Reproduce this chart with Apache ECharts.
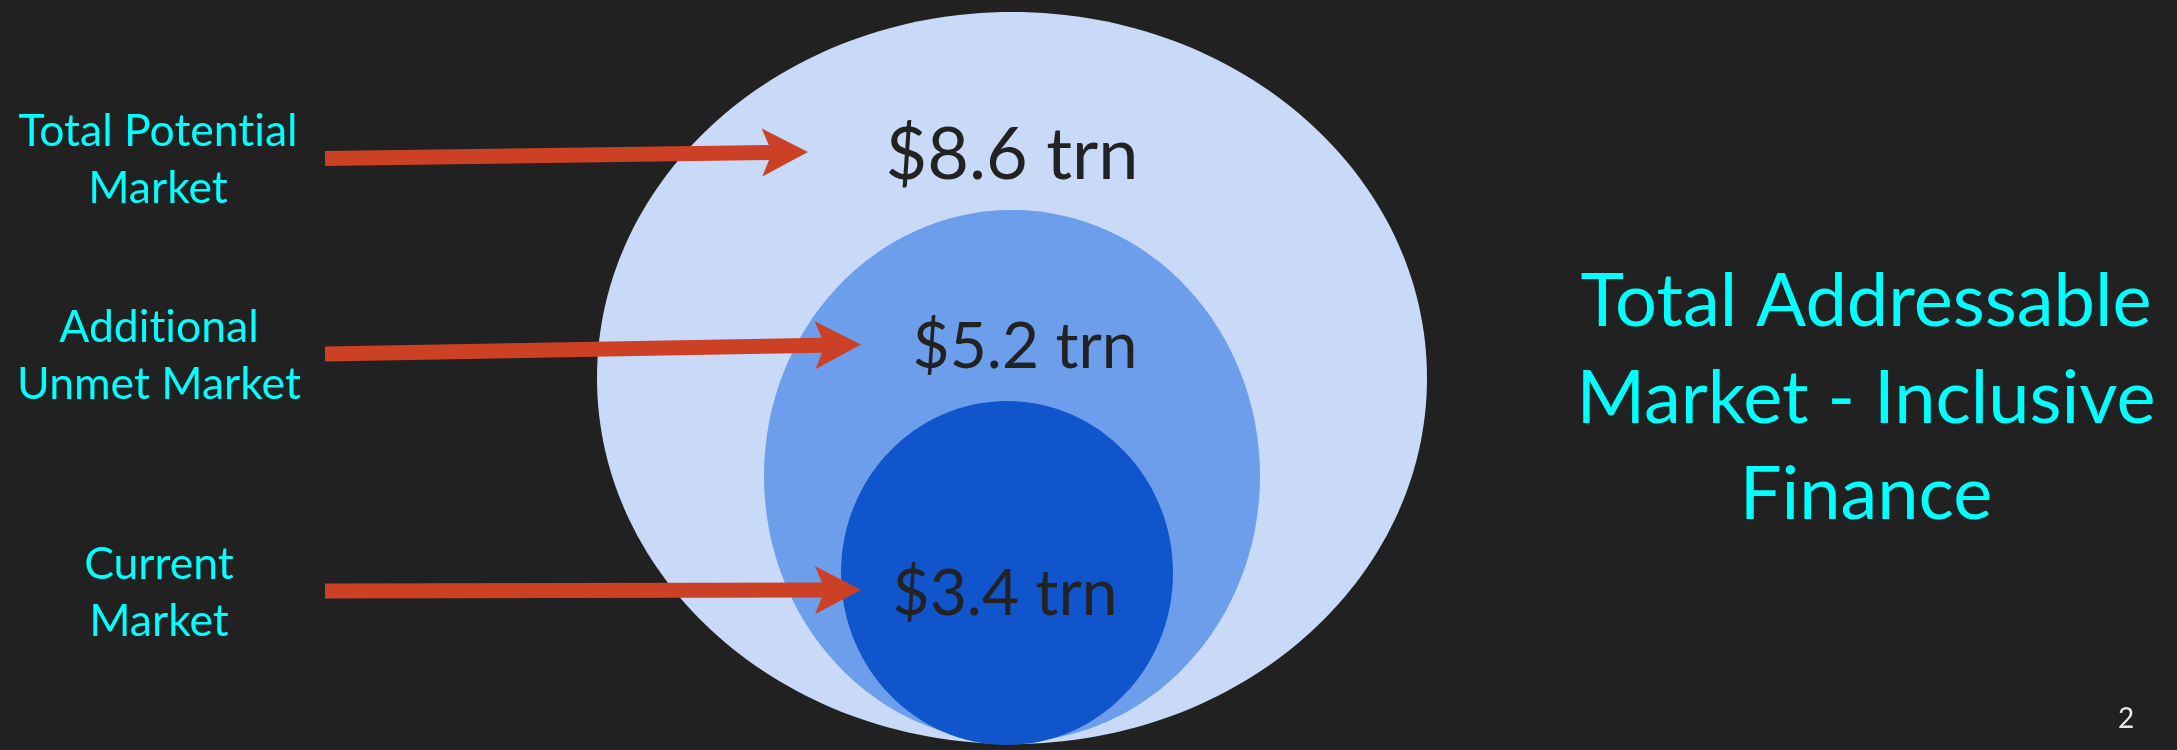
<!DOCTYPE html>
<html>
<head>
<meta charset="utf-8">
<script src="https://cdn.jsdelivr.net/npm/echarts@6/dist/echarts.min.js"></script>
<style>
  html, body { margin: 0; padding: 0; background: #212121; }
  #chart { width: 2177px; height: 750px; }
</style>
</head>
<body>
<div id="chart"></div>
<script>
// disable optional ligatures (e.g. "ti") so text looks like the reference
(function () {
  const proto = CanvasRenderingContext2D.prototype;
  const orig = proto.fillText;
  proto.fillText = function () {
    try { this.textRendering = 'optimizeSpeed'; } catch (e) {}
    return orig.apply(this, arguments);
  };
})();

// ---- data ----
const categories = ['Total Potential\nMarket', 'Additional\nUnmet Market', 'Current\nMarket'];
const values = [8.6, 5.2, 3.4];
const unit = 'trn';
const titleText = 'Total Addressable\nMarket - Inclusive\nFinance';
const pageNumber = '2';

// ---- layout (axis units = pixels) ----
const ellipseGeom = [
  [1012, 378, 415, 366],
  [1012, 476, 248, 266],
  [1007, 573, 166, 172]
];
const ellipseColors = ['#c9daf8', '#6d9eeb', '#1155cc'];
const valueLabelPos = [[1012, 156], [1025, 347], [1005, 594]];
const valueFontSizes = [72, 64, 64];
const catLabelPos = [[158, 160], [159, 356], [159, 593]];
const arrowGeom = [
  [325, 158.5, 808, 152],
  [325, 354, 861, 344.5],
  [325, 591, 861, 590]
];

const FONT = 'Lato, "Open Sans", sans-serif';

const chart = echarts.init(document.getElementById('chart'), null, { renderer: 'canvas' });

function ellipseItem(params, api) {
  const i = params.dataIndex;
  const g = ellipseGeom[i];
  const c = api.coord([g[0], g[1]]);
  const s = api.size([g[2], g[3]]);
  return {
    type: 'ellipse',
    shape: { cx: c[0], cy: c[1], rx: s[0], ry: s[1] },
    style: { fill: ellipseColors[i] }
  };
}

function arrowItem(params, api) {
  const a = arrowGeom[params.dataIndex];
  const p0 = api.coord([a[0], a[1]]);
  const p1 = api.coord([a[2], a[3]]);
  const dx = p1[0] - p0[0], dy = p1[1] - p0[1];
  const L = Math.sqrt(dx * dx + dy * dy);
  const ux = dx / L, uy = dy / L, vx = -uy, vy = ux;
  const hw = 7.5, headLen = 46, headHalf = 24, notch = 10;
  const sEnd = L - headLen + notch * (1 - hw / headHalf);
  const local = [
    [0, -hw], [sEnd, -hw], [L - headLen, -headHalf], [L, 0],
    [L - headLen, headHalf], [sEnd, hw], [0, hw]
  ];
  const pts = local.map(function (q) {
    return [p0[0] + ux * q[0] + vx * q[1], p0[1] + uy * q[0] + vy * q[1]];
  });
  return {
    type: 'polygon',
    shape: { points: pts },
    style: { fill: '#cc4125' }
  };
}

function valueLabelItem(params, api) {
  const i = params.dataIndex;
  const c = api.coord(valueLabelPos[i]);
  return {
    type: 'text',
    x: c[0], y: c[1],
    style: {
      text: '$' + values[i].toFixed(1) + ' ' + unit,
      fill: '#222222',
      font: valueFontSizes[i] + 'px ' + FONT,
      textAlign: 'center', textVerticalAlign: 'middle',
      align: 'center', verticalAlign: 'middle'
    }
  };
}

function catLabelItem(params, api) {
  const i = params.dataIndex;
  const c = api.coord(catLabelPos[i]);
  return {
    type: 'text',
    x: c[0], y: c[1],
    style: {
      text: categories[i],
      fill: '#00ffff',
      font: '44.5px ' + FONT,
      lineHeight: 57,
      textAlign: 'center', textVerticalAlign: 'middle',
      align: 'center', verticalAlign: 'middle'
    }
  };
}

const option = {
  backgroundColor: '#212121',
  animation: false,
  title: [
    {
      text: titleText,
      left: 1866, top: 254, textAlign: 'center', padding: 0,
      textStyle: { color: '#00ffff', fontSize: 74, lineHeight: 96.5, fontWeight: 'normal', fontFamily: FONT, align: 'center' }
    },
    {
      text: pageNumber,
      left: 2126, top: 705, textAlign: 'center', padding: 0,
      textStyle: { color: '#e8e8e8', fontSize: 28, lineHeight: 28, fontWeight: 'normal', fontFamily: FONT }
    }
  ],
  grid: { left: 0, right: 0, top: 0, bottom: 0 },
  xAxis: { type: 'value', min: 0, max: 2177, show: false },
  yAxis: { type: 'value', min: 0, max: 750, inverse: true, show: false },
  series: [
    { type: 'custom', name: 'markets', renderItem: ellipseItem, data: values.map(function (v, i) { return [i, v]; }), silent: true, z: 1 },
    { type: 'custom', name: 'arrows', renderItem: arrowItem, data: categories.map(function (c, i) { return [i]; }), silent: true, z: 2 },
    { type: 'custom', name: 'values', renderItem: valueLabelItem, data: values.map(function (v, i) { return [i, v]; }), silent: true, z: 3 },
    { type: 'custom', name: 'categories', renderItem: catLabelItem, data: categories.map(function (c, i) { return [i]; }), silent: true, z: 3 }
  ]
};
chart.setOption(option);
</script>
</body>
</html>
